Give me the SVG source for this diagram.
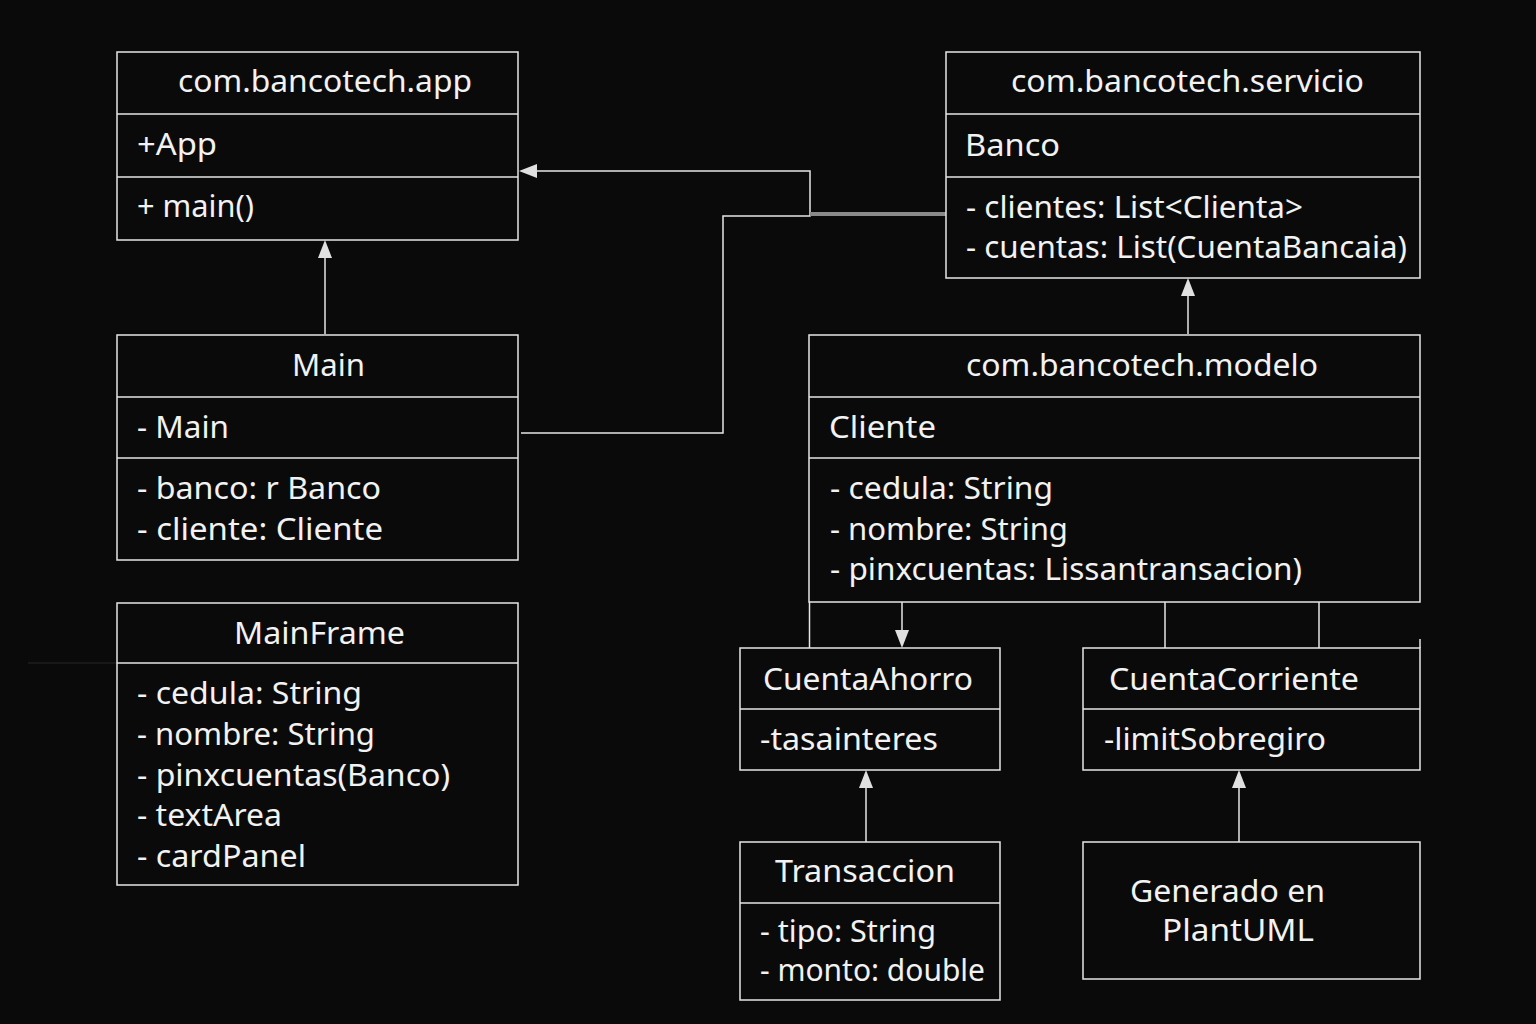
<svg xmlns="http://www.w3.org/2000/svg" width="1536" height="1024" viewBox="0 0 1536 1024">
<style>
.bg{fill:#0a0a0a}
.box{fill:#0a0a0a;stroke:#e6e6e6;stroke-width:1.5}
.div{stroke:#e6e6e6;stroke-width:1.5}
.t{font-family:"Noto Sans","Open Sans","Liberation Sans",sans-serif;font-size:30px;fill:#f2f2f2}
.c{stroke:#e6e6e6;stroke-width:1.5;fill:none}
.head{fill:#e0e0e0;stroke:none}
</style>
<rect class="bg" x="0" y="0" width="1536" height="1024"/>

<g id="connectors">
<line class="c" x1="325" y1="334" x2="325" y2="256"/>
<polygon class="head" points="325,240 318,258 332,258"/>
<polyline class="c" points="521,433 723,433 723,216 810,216 810,171 536,171"/>
<polygon class="head" points="519,171 537,164 537,178"/>
<line x1="810" y1="214" x2="948" y2="214" stroke="#8a8a8a" stroke-width="4"/>
<line class="c" x1="1188" y1="334" x2="1188" y2="294"/>
<polygon class="head" points="1188,278 1181,296 1195,296"/>
<line class="c" x1="809.5" y1="602" x2="809.5" y2="648"/>
<line class="c" x1="902" y1="602" x2="902" y2="632"/>
<polygon class="head" points="902,648 895,630 909,630"/>
<line class="c" x1="1165" y1="602" x2="1165" y2="648"/>
<line class="c" x1="1319" y1="602" x2="1319" y2="648"/>
<line class="c" x1="1420" y1="639" x2="1420" y2="648"/>
<line class="c" x1="866" y1="842" x2="866" y2="786"/>
<polygon class="head" points="866,770 859,788 873,788"/>
<line class="c" x1="1239" y1="842" x2="1239" y2="786"/>
<polygon class="head" points="1239,770 1232,788 1246,788"/>
<line x1="28" y1="663" x2="117" y2="663" stroke="#1e1e1e" stroke-width="1.5"/>
</g>

<g id="app">
<rect class="box" x="117" y="52" width="401" height="188"/>
<line class="div" x1="117" y1="114" x2="518" y2="114"/>
<line class="div" x1="117" y1="177" x2="518" y2="177"/>
<text class="t" x="178" y="92" textLength="294" lengthAdjust="spacingAndGlyphs">com.bancotech.app</text>
<text class="t" x="137" y="155" textLength="80" lengthAdjust="spacingAndGlyphs">+App</text>
<text class="t" x="137" y="217" textLength="117" lengthAdjust="spacingAndGlyphs">+ main()</text>
</g>

<g id="servicio">
<rect class="box" x="946" y="52" width="474" height="226"/>
<line class="div" x1="946" y1="114" x2="1420" y2="114"/>
<line class="div" x1="946" y1="177" x2="1420" y2="177"/>
<text class="t" x="1011" y="92" textLength="353" lengthAdjust="spacingAndGlyphs">com.bancotech.servicio</text>
<text class="t" x="965" y="156" textLength="95" lengthAdjust="spacingAndGlyphs">Banco</text>
<text class="t" x="966" y="218" textLength="337" lengthAdjust="spacingAndGlyphs">- clientes: List&lt;Clienta&gt;</text>
<text class="t" x="966" y="258" textLength="441" lengthAdjust="spacingAndGlyphs">- cuentas: List(CuentaBancaia)</text>
</g>

<g id="main">
<rect class="box" x="117" y="335" width="401" height="225"/>
<line class="div" x1="117" y1="397" x2="518" y2="397"/>
<line class="div" x1="117" y1="458" x2="518" y2="458"/>
<text class="t" x="292" y="376" textLength="73" lengthAdjust="spacingAndGlyphs">Main</text>
<text class="t" x="137" y="438" textLength="92" lengthAdjust="spacingAndGlyphs">- Main</text>
<text class="t" x="137" y="499" textLength="244" lengthAdjust="spacingAndGlyphs">- banco: r Banco</text>
<text class="t" x="137" y="540" textLength="246" lengthAdjust="spacingAndGlyphs">- cliente: Cliente</text>
</g>

<g id="mainframe">
<rect class="box" x="117" y="603" width="401" height="282"/>
<line class="div" x1="117" y1="663" x2="518" y2="663"/>
<text class="t" x="234" y="644" textLength="171" lengthAdjust="spacingAndGlyphs">MainFrame</text>
<text class="t" x="137" y="704" textLength="225" lengthAdjust="spacingAndGlyphs">- cedula: String</text>
<text class="t" x="137" y="745" textLength="238" lengthAdjust="spacingAndGlyphs">- nombre: String</text>
<text class="t" x="137" y="786" textLength="313" lengthAdjust="spacingAndGlyphs">- pinxcuentas(Banco)</text>
<text class="t" x="137" y="826" textLength="145" lengthAdjust="spacingAndGlyphs">- textArea</text>
<text class="t" x="137" y="867" textLength="169" lengthAdjust="spacingAndGlyphs">- cardPanel</text>
</g>

<g id="modelo">
<rect class="box" x="809" y="335" width="611" height="267"/>
<line class="div" x1="809" y1="397" x2="1420" y2="397"/>
<line class="div" x1="809" y1="458" x2="1420" y2="458"/>
<text class="t" x="966" y="376" textLength="352" lengthAdjust="spacingAndGlyphs">com.bancotech.modelo</text>
<text class="t" x="829" y="438" textLength="107" lengthAdjust="spacingAndGlyphs">Cliente</text>
<text class="t" x="830" y="499" textLength="223" lengthAdjust="spacingAndGlyphs">- cedula: String</text>
<text class="t" x="830" y="540" textLength="238" lengthAdjust="spacingAndGlyphs">- nombre: String</text>
<text class="t" x="830" y="580" textLength="472" lengthAdjust="spacingAndGlyphs">- pinxcuentas: Lissantransacion)</text>
</g>

<g id="cuentaahorro">
<rect class="box" x="740" y="648" width="260" height="122"/>
<line class="div" x1="740" y1="709" x2="1000" y2="709"/>
<text class="t" x="763" y="690" textLength="210" lengthAdjust="spacingAndGlyphs">CuentaAhorro</text>
<text class="t" x="760" y="750" textLength="178" lengthAdjust="spacingAndGlyphs">-tasainteres</text>
</g>

<g id="cuentacorriente">
<rect class="box" x="1083" y="648" width="337" height="122"/>
<line class="div" x1="1083" y1="709" x2="1420" y2="709"/>
<text class="t" x="1109" y="690" textLength="250" lengthAdjust="spacingAndGlyphs">CuentaCorriente</text>
<text class="t" x="1104" y="750" textLength="222" lengthAdjust="spacingAndGlyphs">-limitSobregiro</text>
</g>

<g id="transaccion">
<rect class="box" x="740" y="842" width="260" height="158"/>
<line class="div" x1="740" y1="903" x2="1000" y2="903"/>
<text class="t" x="775" y="882" textLength="180" lengthAdjust="spacingAndGlyphs">Transaccion</text>
<text class="t" x="760" y="942" textLength="176" lengthAdjust="spacingAndGlyphs">- tipo: String</text>
<text class="t" x="760" y="981" textLength="225" lengthAdjust="spacingAndGlyphs">- monto: double</text>
</g>

<g id="generado">
<rect class="box" x="1083" y="842" width="337" height="137"/>
<text class="t" x="1130" y="902" textLength="195" lengthAdjust="spacingAndGlyphs">Generado en</text>
<text class="t" x="1162" y="941" textLength="152" lengthAdjust="spacingAndGlyphs">PlantUML</text>
</g>
</svg>
